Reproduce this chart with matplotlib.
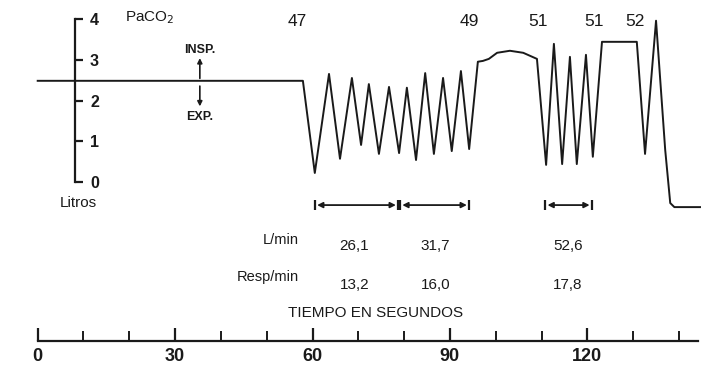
import matplotlib.pyplot as plt
from matplotlib.ticker import MultipleLocator

# spirogram trace: time (s) and volume (L)
trace_t = [0, 57.9, 60.5, 63.6, 66.0, 68.6, 70.6, 72.3, 74.5, 76.7, 78.9,
           80.6, 82.6, 84.6, 86.5, 88.5, 90.4, 92.4, 94.2, 96.1, 97.2,
           98.5, 100.3, 103.1, 106.0, 109.0, 111.0, 112.7, 114.5, 116.2,
           117.7, 119.7, 121.2, 123.2, 130.8, 132.6, 135.0, 137.0, 138.1,
           139.0, 144.6]
trace_v = [2.49, 2.49, 0.22, 2.66, 0.57, 2.56, 0.91, 2.41, 0.69, 2.34, 0.71,
           2.32, 0.54, 2.68, 0.69, 2.56, 0.76, 2.73, 0.81, 2.96, 2.98,
           3.03, 3.18, 3.23, 3.18, 3.03, 0.42, 3.40, 0.44, 3.08,
           0.44, 3.13, 0.62, 3.45, 3.45, 0.69, 3.97, 0.79, -0.52,
           -0.62, -0.62]

# PaCO2 readings along the top
paco2_t = [56.6, 94.2, 109.2, 121.5, 130.4]
paco2_labels = ['47', '49', '51', '51', '52']

# measurement intervals
interval_start = [60.5, 79.1, 110.8]
interval_end = [78.7, 94.2, 121.0]
interval_mid = [69.1, 86.8, 115.8]
l_min = ['26,1', '31,7', '52,6']
resp_min = ['13,2', '16,0', '17,8']

time_ticks = [0, 30, 60, 90, 120]
volume_ticks = [0, 1, 2, 3, 4]

ink = '#1a1a1a'
font = 'Liberation Sans'

fig = plt.figure(figsize=(7.11, 3.72), dpi=100)
ax = fig.add_axes([0, 0.0841, 1, 0.9159])
ax.set_xlim(-8.23, 147.0)
ax.set_ylim(-3.91, 4.48)
ax.patch.set_alpha(0)

ax.plot(trace_t, trace_v, color=ink, lw=1.4, solid_joinstyle='round')

# time axis along the bottom spine
for side in ['top', 'left']:
    ax.spines[side].set_visible(False)
ax.spines['bottom'].set_bounds(0, 144.2)
ax.spines['bottom'].set_linewidth(1.6)
ax.spines['bottom'].set_color(ink)
ax.set_xticks(time_ticks)
ax.xaxis.set_minor_locator(MultipleLocator(10))
ax.tick_params(axis='x', which='major', direction='in', length=9.5,
               width=1.6, color=ink, pad=5, labelsize=13, labelcolor=ink)
ax.tick_params(axis='x', which='minor', direction='in', length=7,
               width=1.4, color=ink)
for lab in ax.get_xticklabels():
    lab.set_fontfamily(font)
    lab.set_fontweight('bold')

# volume scale: right spine moved next to the trace start
ax.yaxis.tick_right()
ax.spines['right'].set_position(('data', 8.1))
ax.spines['right'].set_bounds(0, 4)
ax.spines['right'].set_linewidth(1.6)
ax.spines['right'].set_color(ink)
ax.set_yticks(volume_ticks)
ax.tick_params(axis='y', direction='out', length=6, width=1.6, color=ink,
               pad=5, labelsize=11.5, labelcolor=ink)
for lab in ax.get_yticklabels():
    lab.set_fontfamily(font)
    lab.set_fontweight('bold')

ax.text(8.8, -0.52, 'Litros', ha='center', va='center', fontsize=11,
        family=font, color=ink)

# PaCO2 header
ax.text(24.5, 4.04, 'PaCO$_2$', ha='center', va='center', fontsize=11,
        family=font, color=ink)
for t, s in zip(paco2_t, paco2_labels):
    ax.text(t, 3.94, s, ha='center', va='center', fontsize=12.5,
            family=font, color=ink)

# INSP / EXP arrows
ax.text(35.4, 3.25, 'INSP.', ha='center', va='center', fontsize=9,
        family=font, weight='bold', color=ink)
ax.text(35.4, 1.60, 'EXP.', ha='center', va='center', fontsize=9,
        family=font, weight='bold', color=ink)
ax.annotate('', xy=(35.4, 3.05), xytext=(35.4, 2.55),
            arrowprops=dict(arrowstyle='-|>', color=ink, lw=1.2,
                            mutation_scale=7, shrinkA=0, shrinkB=0))
ax.annotate('', xy=(35.4, 1.86), xytext=(35.4, 2.36),
            arrowprops=dict(arrowstyle='-|>', color=ink, lw=1.2,
                            mutation_scale=7, shrinkA=0, shrinkB=0))

# interval arrows with end caps
for a, b in zip(interval_start, interval_end):
    ax.annotate('', xy=(b - 0.5, -0.57), xytext=(a + 0.5, -0.57),
                arrowprops=dict(arrowstyle='<|-|>', color=ink, lw=1.3,
                                mutation_scale=8, shrinkA=0, shrinkB=0))
ax.vlines(interval_start + interval_end, -0.69, -0.45, color=ink, lw=1.6)

ax.text(57.1, -1.43, 'L/min', ha='right', va='center', fontsize=10.5,
        family=font, color=ink)
ax.text(57.1, -2.34, 'Resp/min', ha='right', va='center', fontsize=10.5,
        family=font, color=ink)
for t, a, b in zip(interval_mid, l_min, resp_min):
    ax.text(t, -1.58, a, ha='center', va='center', fontsize=11,
            family=font, color=ink)
    ax.text(t, -2.54, b, ha='center', va='center', fontsize=11,
            family=font, color=ink)

ax.text(73.7, -3.23, 'TIEMPO EN SEGUNDOS', ha='center', va='center',
        fontsize=11, family=font, color=ink)

fig.savefig('out.png', dpi=100)
